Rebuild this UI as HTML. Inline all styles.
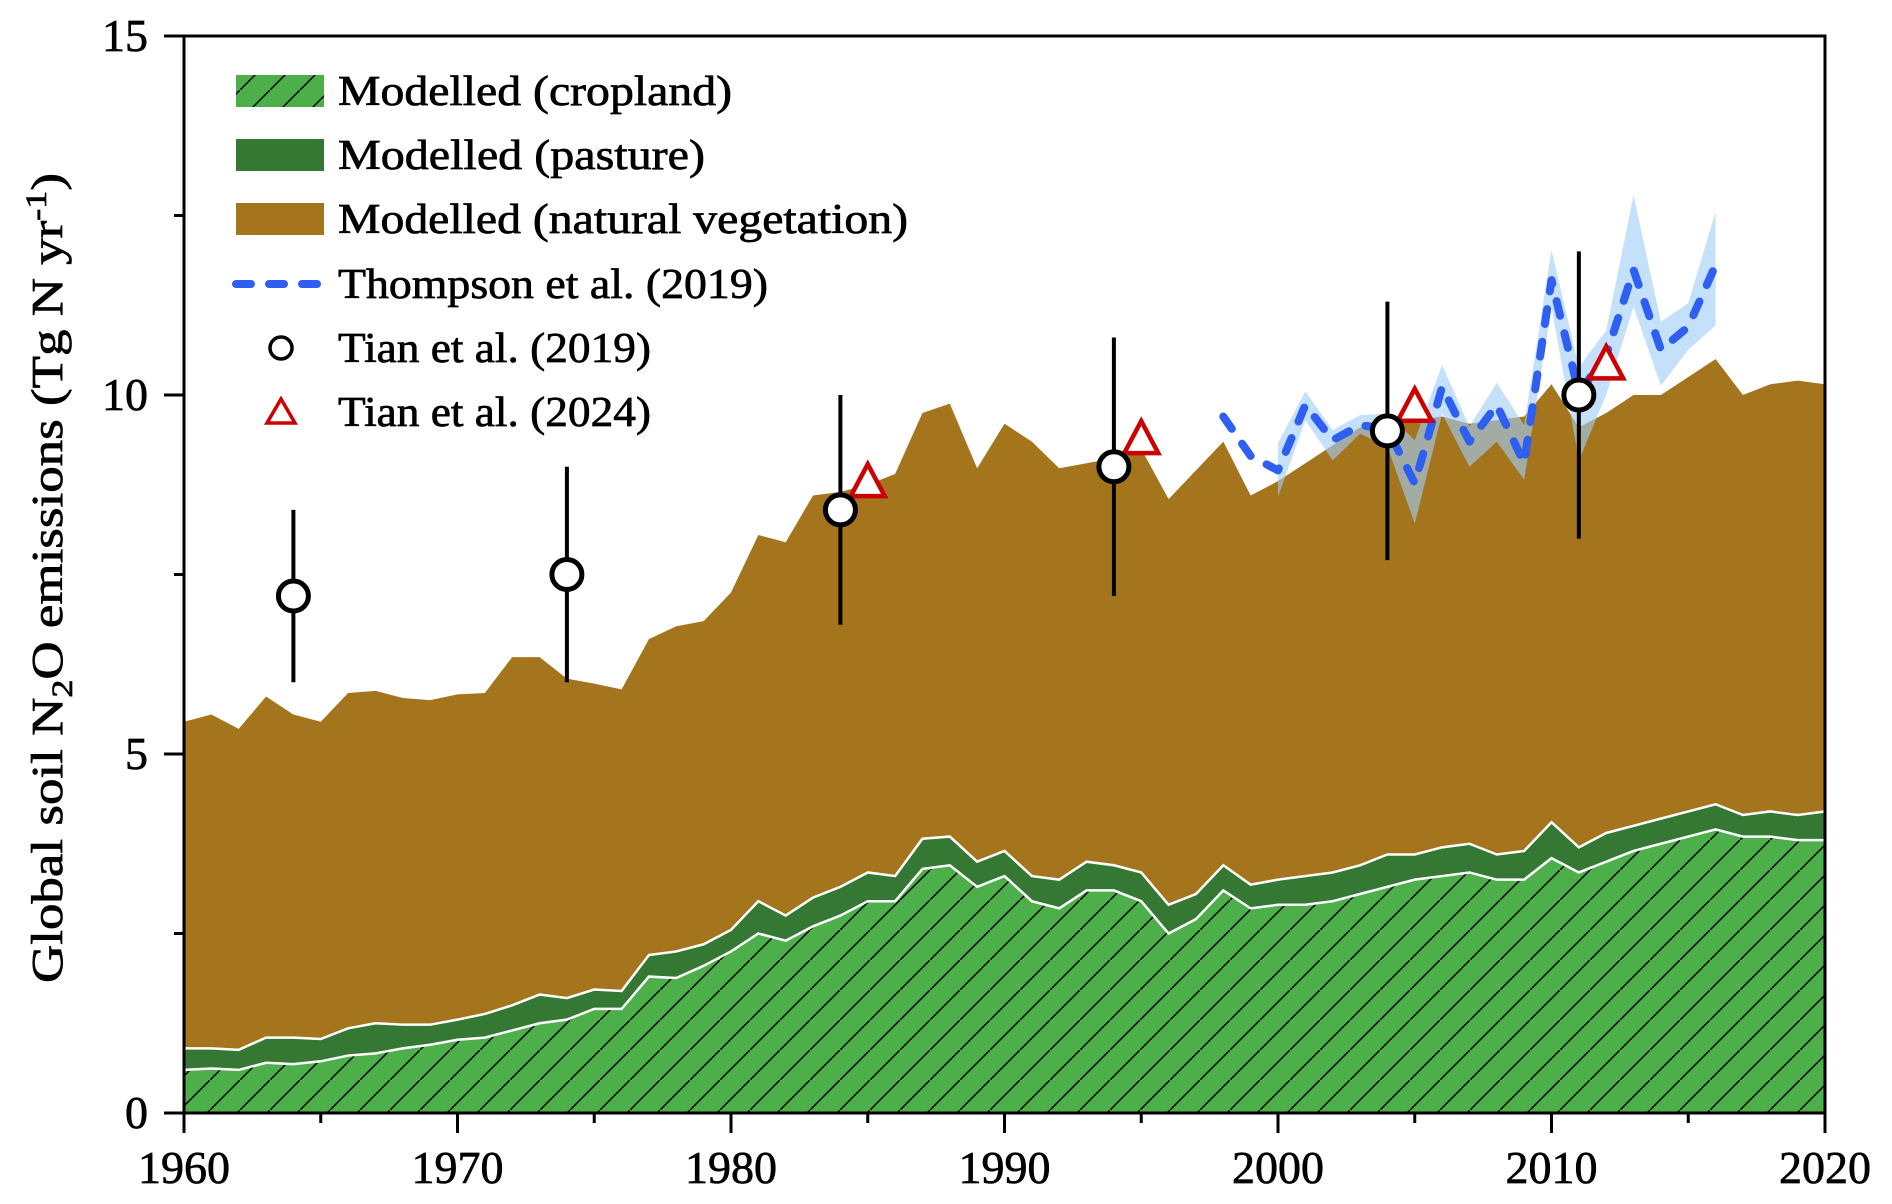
<!DOCTYPE html>
<html><head><meta charset="utf-8"><style>
html,body{margin:0;padding:0;background:#fff;}
svg{display:block;font-family:"Liberation Serif",serif;}
</style></head><body>
<svg id="chart" width="1892" height="1204" viewBox="0 0 1892 1204" xmlns="http://www.w3.org/2000/svg">
<defs>
<pattern id="hatch" patternUnits="userSpaceOnUse" width="30" height="30">
<rect width="30" height="30" fill="#4daf4a"/>
<line x1="-3" y1="33" x2="33" y2="-3" stroke="#000" stroke-width="1.5"/>
</pattern>
<clipPath id="plotclip"><rect x="184" y="36" width="1641" height="1077"/></clipPath>
</defs>
<g id="areas" clip-path="url(#plotclip)"></g>
<g id="thompson" clip-path="url(#plotclip)"></g>
<g id="points"></g>
<g id="axes"></g>
<g id="legend"></g>
<text transform="translate(62,578) rotate(-90)" text-anchor="middle" font-size="44" stroke="#000" stroke-width="0.7" textLength="810" lengthAdjust="spacingAndGlyphs">Global soil N<tspan font-size="30" dy="10">2</tspan><tspan dy="-10">O emissions (Tg N yr</tspan><tspan font-size="30" dy="-16">-1</tspan><tspan dy="16">)</tspan></text>
</svg>
<script>
const years = [];
for (let y = 1960; y <= 2020; y++) years.push(y);
const cropland = [0.6,0.62,0.6,0.7,0.68,0.72,0.8,0.83,0.9,0.95,1.02,1.05,1.15,1.25,1.3,1.45,1.45,1.9,1.88,2.05,2.25,2.5,2.4,2.6,2.75,2.95,2.95,3.4,3.45,3.15,3.3,2.95,2.85,3.1,3.1,2.95,2.5,2.7,3.1,2.85,2.9,2.9,2.95,3.05,3.15,3.25,3.3,3.35,3.25,3.25,3.55,3.35,3.5,3.65,3.75,3.85,3.95,3.85,3.85,3.8,3.8];
const pastureTop = [0.9,0.9,0.88,1.05,1.05,1.03,1.18,1.25,1.23,1.23,1.3,1.38,1.5,1.65,1.6,1.72,1.7,2.2,2.25,2.35,2.55,2.95,2.75,3.0,3.15,3.35,3.3,3.82,3.85,3.5,3.65,3.3,3.25,3.5,3.45,3.35,2.9,3.05,3.45,3.18,3.25,3.3,3.35,3.45,3.6,3.6,3.7,3.75,3.6,3.65,4.05,3.7,3.9,4.0,4.1,4.2,4.3,4.15,4.2,4.15,4.2];
const totalTop = [5.45,5.55,5.35,5.8,5.55,5.45,5.85,5.88,5.78,5.75,5.83,5.85,6.35,6.35,6.05,5.98,5.9,6.6,6.78,6.85,7.25,8.05,7.95,8.6,8.65,8.75,8.9,9.75,9.88,8.98,9.6,9.35,8.98,9.05,9.12,9.25,8.55,8.95,9.35,8.6,8.8,9.05,9.3,9.55,9.6,9.65,9.7,9.6,9.65,9.7,10.15,9.55,9.75,10.0,10.0,10.25,10.5,10.0,10.15,10.2,10.15];
const thYears = [1998,1999,2000,2001,2002,2003,2004,2005,2006,2007,2008,2009,2010,2011,2012,2013,2014,2015,2016];
const thValues = [9.7,9.15,8.95,9.86,9.37,9.58,9.53,8.77,10.11,9.35,9.86,9.05,11.6,10.03,10.55,11.74,10.63,10.95,11.81];
const bandYears = [2000,2001,2002,2003,2004,2005,2006,2007,2008,2009,2010,2011,2012,2013,2014,2015,2016];
const bandUpper = [9.33,10.05,9.51,9.72,9.74,9.37,10.42,9.56,10.17,9.58,12.02,10.39,10.9,12.78,11.02,11.28,12.55];
const bandLower = [8.58,9.65,9.09,9.46,9.28,8.21,9.74,9.0,9.35,8.82,11.23,9.09,10.0,11.23,10.13,10.63,10.97];
const t19Years = [1964,1974,1984,1994,2004,2011];
const t19Values = [7.2,7.5,8.4,9.0,9.5,10.0];
const t19Low = [6.0,6.0,6.8,7.2,7.7,8.0];
const t19High = [8.4,9.0,10.0,10.8,11.3,12.0];
const t24Years = [1985,1995,2005,2012];
const t24Values = [8.8,9.4,9.85,10.44];
const yTicks = [0,5,10,15];
const xTicks = [1960,1970,1980,1990,2000,2010,2020];

const NS = "http://www.w3.org/2000/svg";
const X = y => 184 + (y - 1960) * (1641 / 60);
const Y = v => 1113 - v * (1077 / 15);
function mk(tag, attrs, parent) {
  const e = document.createElementNS(NS, tag);
  for (const k in attrs) e.setAttribute(k, attrs[k]);
  parent.appendChild(e);
  return e;
}
function areaPath(xs, top, bottom) {
  let d = "M" + xs.map((x, i) => X(x) + "," + Y(top[i])).join("L");
  for (let i = xs.length - 1; i >= 0; i--) d += "L" + X(xs[i]) + "," + Y(bottom ? bottom[i] : 0);
  return d + "Z";
}
const areas = document.getElementById("areas");
let e;
e = mk("path", {d: areaPath(years, totalTop, pastureTop), fill: "#a5751e"}, areas);


e = mk("path", {d: areaPath(years, pastureTop, cropland), fill: "#347834"}, areas);


e = mk("path", {d: areaPath(years, cropland, null), fill: "url(#hatch)"}, areas);


e = mk("polyline", {points: years.map((y, i) => X(y) + "," + Y(pastureTop[i])).join(" "), fill: "none", stroke: "#fff", "stroke-width": 2.5}, areas);


e = mk("polyline", {points: years.map((y, i) => X(y) + "," + Y(cropland[i])).join(" "), fill: "none", stroke: "#fff", "stroke-width": 2.5}, areas);



const th = document.getElementById("thompson");
e = mk("path", {d: areaPath(bandYears, bandUpper, bandLower), fill: "#9fcdf7", "fill-opacity": 0.62}, th);


e = mk("polyline", {points: thYears.map((y, i) => X(y) + "," + Y(thValues[i])).join(" "), fill: "none", stroke: "#2f5ff0", "stroke-width": 8, "stroke-dasharray": "15 18", "stroke-linecap": "round", "stroke-linejoin": "round"}, th);



const pts = document.getElementById("points");
t19Years.forEach((y, i) => {
  const b = mk("line", {x1: X(y), x2: X(y), y1: Y(t19Low[i]), y2: Y(t19High[i]), stroke: "#000", "stroke-width": 4}, pts);
  
  
});
t24Years.forEach((y, i) => {
  const cx = X(y), cy = Y(t24Values[i]);
  const t = mk("polygon", {points: (cx - 17) + "," + (cy + 15) + " " + (cx + 17) + "," + (cy + 15) + " " + cx + "," + (cy - 17), fill: "#fff", stroke: "#cc0000", "stroke-width": 4.5, "stroke-linejoin": "miter"}, pts);
  
  
});
t19Years.forEach((y, i) => {
  const c = mk("circle", {cx: X(y), cy: Y(t19Values[i]), r: 15, fill: "#fff", stroke: "#000", "stroke-width": 5}, pts);
  
  
});

const ax = document.getElementById("axes");
e = mk("rect", {x: 184, y: 36, width: 1641, height: 1077, fill: "none", stroke: "#000", "stroke-width": 3}, ax);


for (let v = 0; v <= 15; v += 2.5) {
  const major = v % 5 === 0;
  const t = mk("line", {x1: major ? 164 : 174, x2: 184, y1: Y(v), y2: Y(v), stroke: "#000", "stroke-width": 3}, ax);
  
  
}
yTicks.forEach(v => {
  const t = mk("text", {x: 148, y: Y(v) + 15, "text-anchor": "end", "font-size": 46, stroke: "#000", "stroke-width": 0.7}, ax);
  t.textContent = v;
  
  
});
for (let y = 1960; y <= 2020; y += 5) {
  const major = y % 10 === 0;
  const t = mk("line", {x1: X(y), x2: X(y), y1: 1113, y2: major ? 1133 : 1123, stroke: "#000", "stroke-width": 3}, ax);
  
  
}
xTicks.forEach(y => {
  const t = mk("text", {x: X(y), y: 1183, "text-anchor": "middle", "font-size": 46, stroke: "#000", "stroke-width": 0.7}, ax);
  t.textContent = y;
  
  
});

const lg = document.getElementById("legend");
const rows = [
  {y: 91, label: "Modelled (cropland)", w: 394, kind: "rect", fill: "url(#hatch)", name: "legend-cropland"},
  {y: 155, label: "Modelled (pasture)", w: 367, kind: "rect", fill: "#347834", name: "legend-pasture"},
  {y: 219, label: "Modelled (natural vegetation)", w: 570, kind: "rect", fill: "#a5751e", name: "legend-natural-vegetation"},
  {y: 284, label: "Thompson et al. (2019)", w: 430, kind: "line", name: "legend-thompson"},
  {y: 348, label: "Tian et al. (2019)", w: 313, kind: "circle", name: "legend-tian2019"},
  {y: 412, label: "Tian et al. (2024)", w: 313, kind: "tri", name: "legend-tian2024"}
];
rows.forEach(r => {
  const g = mk("g", {}, lg);
  
  
  if (r.kind === "rect") mk("rect", {x: 236, y: r.y - 16, width: 88, height: 32, fill: r.fill}, g);
  if (r.kind === "line") mk("line", {x1: 236, x2: 326, y1: r.y, y2: r.y, stroke: "#2f5ff0", "stroke-width": 8, "stroke-dasharray": "15 18", "stroke-linecap": "round"}, g);
  if (r.kind === "circle") mk("circle", {cx: 281, cy: r.y, r: 11, fill: "#fff", stroke: "#000", "stroke-width": 3.5}, g);
  if (r.kind === "tri") mk("polygon", {points: "267," + (r.y + 11) + " 295," + (r.y + 11) + " 281," + (r.y - 13), fill: "#fff", stroke: "#cc0000", "stroke-width": 3.5}, g);
  const t = mk("text", {x: 338, y: r.y + 14, "font-size": 42, stroke: "#000", "stroke-width": 0.7, textLength: r.w, lengthAdjust: "spacingAndGlyphs"}, g);
  t.textContent = r.label;
});
</script>
</body></html>
